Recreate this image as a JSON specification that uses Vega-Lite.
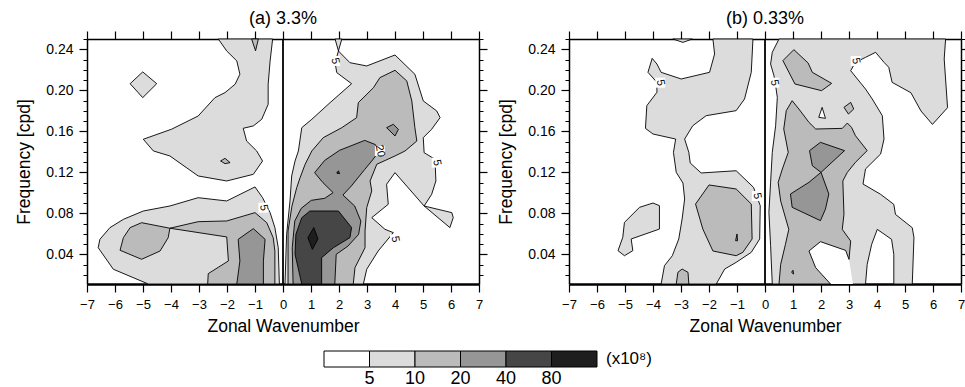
{
"$schema": "https://vega.github.io/schema/vega-lite/v6.json",
"background": "white",
"padding": {"left": 15, "top": 10, "right": 0, "bottom": 0},
"config": {"view": {"stroke": null}, "font": "Liberation Sans",
  "axis": {"domainColor": "black", "tickColor": "black", "labelColor": "black", "titleColor": "black", "labelFont": "Liberation Sans", "titleFont": "Liberation Sans", "titleFontWeight": "normal", "grid": false, "labelFlush": false, "labelOverlap": false, "zindex": 1}},
"datasets": {
"poly": [
{"p":"a","id":"a1","z":1,"lv":1,"i":0,"x":-2.31,"y":0.25},
{"p":"a","id":"a1","z":1,"lv":1,"i":1,"x":-2.01,"y":0.2383},
{"p":"a","id":"a1","z":1,"lv":1,"i":2,"x":-1.65,"y":0.2286},
{"p":"a","id":"a1","z":1,"lv":1,"i":3,"x":-1.54,"y":0.2156},
{"p":"a","id":"a1","z":1,"lv":1,"i":4,"x":-1.71,"y":0.2059},
{"p":"a","id":"a1","z":1,"lv":1,"i":5,"x":-2.07,"y":0.1977},
{"p":"a","id":"a1","z":1,"lv":1,"i":6,"x":-2.43,"y":0.1928},
{"p":"a","id":"a1","z":1,"lv":1,"i":7,"x":-3.03,"y":0.1749},
{"p":"a","id":"a1","z":1,"lv":1,"i":8,"x":-3.98,"y":0.162},
{"p":"a","id":"a1","z":1,"lv":1,"i":9,"x":-4.99,"y":0.1522},
{"p":"a","id":"a1","z":1,"lv":1,"i":10,"x":-4.63,"y":0.1408},
{"p":"a","id":"a1","z":1,"lv":1,"i":11,"x":-4.04,"y":0.1359},
{"p":"a","id":"a1","z":1,"lv":1,"i":12,"x":-3.03,"y":0.1164},
{"p":"a","id":"a1","z":1,"lv":1,"i":13,"x":-2.01,"y":0.1115},
{"p":"a","id":"a1","z":1,"lv":1,"i":14,"x":-1.06,"y":0.118},
{"p":"a","id":"a1","z":1,"lv":1,"i":15,"x":-0.73,"y":0.131},
{"p":"a","id":"a1","z":1,"lv":1,"i":16,"x":-0.94,"y":0.1408},
{"p":"a","id":"a1","z":1,"lv":1,"i":17,"x":-1.3,"y":0.1505},
{"p":"a","id":"a1","z":1,"lv":1,"i":18,"x":-1.42,"y":0.1629},
{"p":"a","id":"a1","z":1,"lv":1,"i":19,"x":-1.06,"y":0.1652},
{"p":"a","id":"a1","z":1,"lv":1,"i":20,"x":-0.76,"y":0.1717},
{"p":"a","id":"a1","z":1,"lv":1,"i":21,"x":-0.53,"y":0.1863},
{"p":"a","id":"a1","z":1,"lv":1,"i":22,"x":-0.53,"y":0.2059},
{"p":"a","id":"a1","z":1,"lv":1,"i":23,"x":-0.46,"y":0.2286},
{"p":"a","id":"a1","z":1,"lv":1,"i":24,"x":-0.37,"y":0.25},
{"p":"a","id":"a2","z":1,"lv":1,"i":0,"x":-5.01,"y":0.2179},
{"p":"a","id":"a2","z":1,"lv":1,"i":1,"x":-4.51,"y":0.2064},
{"p":"a","id":"a2","z":1,"lv":1,"i":2,"x":-5.01,"y":0.1928},
{"p":"a","id":"a2","z":1,"lv":1,"i":3,"x":-5.46,"y":0.2064},
{"p":"a","id":"a3","z":1,"lv":1,"i":0,"x":-4.81,"y":0.011},
{"p":"a","id":"a3","z":1,"lv":1,"i":1,"x":-6.06,"y":0.0254},
{"p":"a","id":"a3","z":1,"lv":1,"i":2,"x":-6.6,"y":0.0464},
{"p":"a","id":"a3","z":1,"lv":1,"i":3,"x":-6.54,"y":0.0546},
{"p":"a","id":"a3","z":1,"lv":1,"i":4,"x":-6.18,"y":0.066},
{"p":"a","id":"a3","z":1,"lv":1,"i":5,"x":-5.7,"y":0.0741},
{"p":"a","id":"a3","z":1,"lv":1,"i":6,"x":-4.99,"y":0.0822},
{"p":"a","id":"a3","z":1,"lv":1,"i":7,"x":-4.04,"y":0.0871},
{"p":"a","id":"a3","z":1,"lv":1,"i":8,"x":-3.03,"y":0.0952},
{"p":"a","id":"a3","z":1,"lv":1,"i":9,"x":-2.01,"y":0.092},
{"p":"a","id":"a3","z":1,"lv":1,"i":10,"x":-1.0,"y":0.1057},
{"p":"a","id":"a3","z":1,"lv":1,"i":11,"x":-0.73,"y":0.0952},
{"p":"a","id":"a3","z":1,"lv":1,"i":12,"x":-0.46,"y":0.0806},
{"p":"a","id":"a3","z":1,"lv":1,"i":13,"x":-0.29,"y":0.066},
{"p":"a","id":"a3","z":1,"lv":1,"i":14,"x":-0.17,"y":0.0464},
{"p":"a","id":"a3","z":1,"lv":1,"i":15,"x":-0.13,"y":0.011},
{"p":"a","id":"a4","z":1,"lv":1,"i":0,"x":0.07,"y":0.011},
{"p":"a","id":"a4","z":1,"lv":1,"i":1,"x":0.13,"y":0.0595},
{"p":"a","id":"a4","z":1,"lv":1,"i":2,"x":0.25,"y":0.092},
{"p":"a","id":"a4","z":1,"lv":1,"i":3,"x":0.31,"y":0.1164},
{"p":"a","id":"a4","z":1,"lv":1,"i":4,"x":0.43,"y":0.131},
{"p":"a","id":"a4","z":1,"lv":1,"i":5,"x":0.55,"y":0.1408},
{"p":"a","id":"a4","z":1,"lv":1,"i":6,"x":0.67,"y":0.1635},
{"p":"a","id":"a4","z":1,"lv":1,"i":7,"x":1.03,"y":0.1717},
{"p":"a","id":"a4","z":1,"lv":1,"i":8,"x":1.68,"y":0.1879},
{"p":"a","id":"a4","z":1,"lv":1,"i":9,"x":2.45,"y":0.2064},
{"p":"a","id":"a4","z":1,"lv":1,"i":10,"x":1.92,"y":0.2172},
{"p":"a","id":"a4","z":1,"lv":1,"i":11,"x":1.86,"y":0.2269},
{"p":"a","id":"a4","z":1,"lv":1,"i":12,"x":1.98,"y":0.2383},
{"p":"a","id":"a4","z":1,"lv":1,"i":13,"x":1.86,"y":0.25},
{"p":"a","id":"a4","z":1,"lv":1,"i":14,"x":2.1,"y":0.25},
{"p":"a","id":"a4","z":1,"lv":1,"i":15,"x":1.98,"y":0.2383},
{"p":"a","id":"a4","z":1,"lv":1,"i":16,"x":2.39,"y":0.2269},
{"p":"a","id":"a4","z":1,"lv":1,"i":17,"x":2.99,"y":0.2237},
{"p":"a","id":"a4","z":1,"lv":1,"i":18,"x":4.0,"y":0.2344},
{"p":"a","id":"a4","z":1,"lv":1,"i":19,"x":4.71,"y":0.2156},
{"p":"a","id":"a4","z":1,"lv":1,"i":20,"x":5.01,"y":0.1896},
{"p":"a","id":"a4","z":1,"lv":1,"i":21,"x":5.49,"y":0.1798},
{"p":"a","id":"a4","z":1,"lv":1,"i":22,"x":5.61,"y":0.1733},
{"p":"a","id":"a4","z":1,"lv":1,"i":23,"x":5.31,"y":0.162},
{"p":"a","id":"a4","z":1,"lv":1,"i":24,"x":5.01,"y":0.1538},
{"p":"a","id":"a4","z":1,"lv":1,"i":25,"x":5.04,"y":0.1391},
{"p":"a","id":"a4","z":1,"lv":1,"i":26,"x":5.43,"y":0.1327},
{"p":"a","id":"a4","z":1,"lv":1,"i":27,"x":5.46,"y":0.1115},
{"p":"a","id":"a4","z":1,"lv":1,"i":28,"x":5.31,"y":0.0985},
{"p":"a","id":"a4","z":1,"lv":1,"i":29,"x":5.04,"y":0.0871},
{"p":"a","id":"a4","z":1,"lv":1,"i":30,"x":6.03,"y":0.0806},
{"p":"a","id":"a4","z":1,"lv":1,"i":31,"x":6.08,"y":0.0757},
{"p":"a","id":"a4","z":1,"lv":1,"i":32,"x":5.96,"y":0.066},
{"p":"a","id":"a4","z":1,"lv":1,"i":33,"x":5.04,"y":0.0871},
{"p":"a","id":"a4","z":1,"lv":1,"i":34,"x":4.0,"y":0.1196},
{"p":"a","id":"a4","z":1,"lv":1,"i":35,"x":3.7,"y":0.1083},
{"p":"a","id":"a4","z":1,"lv":1,"i":36,"x":3.76,"y":0.0888},
{"p":"a","id":"a4","z":1,"lv":1,"i":37,"x":3.17,"y":0.0757},
{"p":"a","id":"a4","z":1,"lv":1,"i":38,"x":3.64,"y":0.0644},
{"p":"a","id":"a4","z":1,"lv":1,"i":39,"x":3.94,"y":0.0611},
{"p":"a","id":"a4","z":1,"lv":1,"i":40,"x":3.4,"y":0.0432},
{"p":"a","id":"a4","z":1,"lv":1,"i":41,"x":2.99,"y":0.0254},
{"p":"a","id":"a4","z":1,"lv":1,"i":42,"x":2.87,"y":0.011},
{"p":"a","id":"a5","z":3,"lv":2,"i":0,"x":-1.12,"y":0.25},
{"p":"a","id":"a5","z":3,"lv":2,"i":1,"x":-0.98,"y":0.2385},
{"p":"a","id":"a5","z":3,"lv":2,"i":2,"x":-0.88,"y":0.25},
{"p":"a","id":"a6","z":3,"lv":2,"i":0,"x":-2.23,"y":0.131},
{"p":"a","id":"a6","z":3,"lv":2,"i":1,"x":-2.07,"y":0.1336},
{"p":"a","id":"a6","z":3,"lv":2,"i":2,"x":-1.89,"y":0.1294},
{"p":"a","id":"a6","z":3,"lv":2,"i":3,"x":-2.07,"y":0.1284},
{"p":"a","id":"a7","z":3,"lv":2,"i":0,"x":-5.05,"y":0.0708},
{"p":"a","id":"a7","z":3,"lv":2,"i":1,"x":-4.04,"y":0.0654},
{"p":"a","id":"a7","z":3,"lv":2,"i":2,"x":-4.1,"y":0.0562},
{"p":"a","id":"a7","z":3,"lv":2,"i":3,"x":-4.39,"y":0.0432},
{"p":"a","id":"a7","z":3,"lv":2,"i":4,"x":-5.05,"y":0.0351},
{"p":"a","id":"a7","z":3,"lv":2,"i":5,"x":-5.82,"y":0.0439},
{"p":"a","id":"a7","z":3,"lv":2,"i":6,"x":-5.7,"y":0.0562},
{"p":"a","id":"a7","z":3,"lv":2,"i":7,"x":-5.46,"y":0.066},
{"p":"a","id":"a8","z":3,"lv":2,"i":0,"x":-4.04,"y":0.0654},
{"p":"a","id":"a8","z":3,"lv":2,"i":1,"x":-3.03,"y":0.0718},
{"p":"a","id":"a8","z":3,"lv":2,"i":2,"x":-2.01,"y":0.0725},
{"p":"a","id":"a8","z":3,"lv":2,"i":3,"x":-1.0,"y":0.0806},
{"p":"a","id":"a8","z":3,"lv":2,"i":4,"x":-0.58,"y":0.0708},
{"p":"a","id":"a8","z":3,"lv":2,"i":5,"x":-0.35,"y":0.0562},
{"p":"a","id":"a8","z":3,"lv":2,"i":6,"x":-0.29,"y":0.0432},
{"p":"a","id":"a8","z":3,"lv":2,"i":7,"x":-0.29,"y":0.011},
{"p":"a","id":"a8","z":3,"lv":2,"i":8,"x":-2.69,"y":0.011},
{"p":"a","id":"a8","z":3,"lv":2,"i":9,"x":-2.67,"y":0.0211},
{"p":"a","id":"a8","z":3,"lv":2,"i":10,"x":-1.95,"y":0.0335},
{"p":"a","id":"a8","z":3,"lv":2,"i":11,"x":-2.01,"y":0.0569},
{"p":"a","id":"a9","z":3,"lv":2,"i":0,"x":0.18,"y":0.011},
{"p":"a","id":"a9","z":3,"lv":2,"i":1,"x":0.18,"y":0.0627},
{"p":"a","id":"a9","z":3,"lv":2,"i":2,"x":0.32,"y":0.0871},
{"p":"a","id":"a9","z":3,"lv":2,"i":3,"x":0.49,"y":0.105},
{"p":"a","id":"a9","z":3,"lv":2,"i":4,"x":0.61,"y":0.1147},
{"p":"a","id":"a9","z":3,"lv":2,"i":5,"x":0.79,"y":0.1278},
{"p":"a","id":"a9","z":3,"lv":2,"i":6,"x":1.03,"y":0.1408},
{"p":"a","id":"a9","z":3,"lv":2,"i":7,"x":1.44,"y":0.1538},
{"p":"a","id":"a9","z":3,"lv":2,"i":8,"x":2.1,"y":0.1635},
{"p":"a","id":"a9","z":3,"lv":2,"i":9,"x":2.63,"y":0.1733},
{"p":"a","id":"a9","z":3,"lv":2,"i":10,"x":2.69,"y":0.1879},
{"p":"a","id":"a9","z":3,"lv":2,"i":11,"x":3.23,"y":0.2025},
{"p":"a","id":"a9","z":3,"lv":2,"i":12,"x":3.46,"y":0.2123},
{"p":"a","id":"a9","z":3,"lv":2,"i":13,"x":4.0,"y":0.2195},
{"p":"a","id":"a9","z":3,"lv":2,"i":14,"x":4.42,"y":0.2091},
{"p":"a","id":"a9","z":3,"lv":2,"i":15,"x":4.6,"y":0.1896},
{"p":"a","id":"a9","z":3,"lv":2,"i":16,"x":4.71,"y":0.1635},
{"p":"a","id":"a9","z":3,"lv":2,"i":17,"x":4.78,"y":0.1505},
{"p":"a","id":"a9","z":3,"lv":2,"i":18,"x":4.36,"y":0.1408},
{"p":"a","id":"a9","z":3,"lv":2,"i":19,"x":4.0,"y":0.1359},
{"p":"a","id":"a9","z":3,"lv":2,"i":20,"x":3.35,"y":0.1278},
{"p":"a","id":"a9","z":3,"lv":2,"i":21,"x":3.11,"y":0.1115},
{"p":"a","id":"a9","z":3,"lv":2,"i":22,"x":3.17,"y":0.1018},
{"p":"a","id":"a9","z":3,"lv":2,"i":23,"x":2.99,"y":0.0855},
{"p":"a","id":"a9","z":3,"lv":2,"i":24,"x":2.93,"y":0.0627},
{"p":"a","id":"a9","z":3,"lv":2,"i":25,"x":2.93,"y":0.0464},
{"p":"a","id":"a9","z":3,"lv":2,"i":26,"x":2.57,"y":0.0269},
{"p":"a","id":"a9","z":3,"lv":2,"i":27,"x":2.51,"y":0.011},
{"p":"a","id":"a10","z":4,"lv":3,"i":0,"x":-1.6,"y":0.0546},
{"p":"a","id":"a10","z":4,"lv":3,"i":1,"x":-1.06,"y":0.065},
{"p":"a","id":"a10","z":4,"lv":3,"i":2,"x":-0.64,"y":0.0546},
{"p":"a","id":"a10","z":4,"lv":3,"i":3,"x":-0.7,"y":0.0334},
{"p":"a","id":"a10","z":4,"lv":3,"i":4,"x":-0.7,"y":0.011},
{"p":"a","id":"a10","z":4,"lv":3,"i":5,"x":-1.65,"y":0.011},
{"p":"a","id":"a10","z":4,"lv":3,"i":6,"x":-1.54,"y":0.0334},
{"p":"a","id":"a11","z":4,"lv":3,"i":0,"x":1.13,"y":0.1196},
{"p":"a","id":"a11","z":4,"lv":3,"i":1,"x":1.49,"y":0.1316},
{"p":"a","id":"a11","z":4,"lv":3,"i":2,"x":2.02,"y":0.1414},
{"p":"a","id":"a11","z":4,"lv":3,"i":3,"x":2.92,"y":0.1511},
{"p":"a","id":"a11","z":4,"lv":3,"i":4,"x":3.3,"y":0.147},
{"p":"a","id":"a11","z":4,"lv":3,"i":5,"x":3.42,"y":0.14},
{"p":"a","id":"a11","z":4,"lv":3,"i":6,"x":3.2,"y":0.132},
{"p":"a","id":"a11","z":4,"lv":3,"i":7,"x":2.92,"y":0.1228},
{"p":"a","id":"a11","z":4,"lv":3,"i":8,"x":2.44,"y":0.1066},
{"p":"a","id":"a11","z":4,"lv":3,"i":9,"x":2.14,"y":0.0978},
{"p":"a","id":"a11","z":4,"lv":3,"i":10,"x":2.56,"y":0.0871},
{"p":"a","id":"a11","z":4,"lv":3,"i":11,"x":2.78,"y":0.0724},
{"p":"a","id":"a11","z":4,"lv":3,"i":12,"x":2.7,"y":0.0594},
{"p":"a","id":"a11","z":4,"lv":3,"i":13,"x":2.32,"y":0.048},
{"p":"a","id":"a11","z":4,"lv":3,"i":14,"x":1.9,"y":0.0399},
{"p":"a","id":"a11","z":4,"lv":3,"i":15,"x":1.85,"y":0.011},
{"p":"a","id":"a11","z":4,"lv":3,"i":16,"x":0.36,"y":0.011},
{"p":"a","id":"a11","z":4,"lv":3,"i":17,"x":0.33,"y":0.0464},
{"p":"a","id":"a11","z":4,"lv":3,"i":18,"x":0.42,"y":0.0724},
{"p":"a","id":"a11","z":4,"lv":3,"i":19,"x":0.65,"y":0.0848},
{"p":"a","id":"a11","z":4,"lv":3,"i":20,"x":1.01,"y":0.0926},
{"p":"a","id":"a11","z":4,"lv":3,"i":21,"x":1.49,"y":0.0946},
{"p":"a","id":"a11","z":4,"lv":3,"i":22,"x":1.79,"y":0.1001},
{"p":"a","id":"a11","z":4,"lv":3,"i":23,"x":1.43,"y":0.1098},
{"p":"a","id":"a12","z":4,"lv":3,"i":0,"x":3.7,"y":0.1635},
{"p":"a","id":"a12","z":4,"lv":3,"i":1,"x":3.94,"y":0.1668},
{"p":"a","id":"a12","z":4,"lv":3,"i":2,"x":4.12,"y":0.1619},
{"p":"a","id":"a12","z":4,"lv":3,"i":3,"x":4.0,"y":0.1554},
{"p":"a","id":"a13","z":5,"lv":4,"i":0,"x":0.67,"y":0.011},
{"p":"a","id":"a13","z":5,"lv":4,"i":1,"x":0.43,"y":0.04},
{"p":"a","id":"a13","z":5,"lv":4,"i":2,"x":0.46,"y":0.0595},
{"p":"a","id":"a13","z":5,"lv":4,"i":3,"x":0.67,"y":0.0757},
{"p":"a","id":"a13","z":5,"lv":4,"i":4,"x":0.96,"y":0.0822},
{"p":"a","id":"a13","z":5,"lv":4,"i":5,"x":1.98,"y":0.0822},
{"p":"a","id":"a13","z":5,"lv":4,"i":6,"x":2.45,"y":0.066},
{"p":"a","id":"a13","z":5,"lv":4,"i":7,"x":2.39,"y":0.0562},
{"p":"a","id":"a13","z":5,"lv":4,"i":8,"x":1.8,"y":0.0464},
{"p":"a","id":"a13","z":5,"lv":4,"i":9,"x":1.38,"y":0.0367},
{"p":"a","id":"a13","z":5,"lv":4,"i":10,"x":1.38,"y":0.011},
{"p":"a","id":"a15","z":5,"lv":4,"i":0,"x":1.92,"y":0.1192},
{"p":"a","id":"a15","z":5,"lv":4,"i":1,"x":1.98,"y":0.1214},
{"p":"a","id":"a15","z":5,"lv":4,"i":2,"x":2.02,"y":0.1186},
{"p":"a","id":"a14","z":6,"lv":5,"i":0,"x":0.89,"y":0.0562},
{"p":"a","id":"a14","z":6,"lv":5,"i":1,"x":1.1,"y":0.066},
{"p":"a","id":"a14","z":6,"lv":5,"i":2,"x":1.25,"y":0.055},
{"p":"a","id":"a14","z":6,"lv":5,"i":3,"x":1.05,"y":0.0448},
{"p":"b","id":"b1","z":1,"lv":1,"i":0,"x":-1.86,"y":0.25},
{"p":"b","id":"b1","z":1,"lv":1,"i":1,"x":-1.8,"y":0.2354},
{"p":"b","id":"b1","z":1,"lv":1,"i":2,"x":-1.98,"y":0.2175},
{"p":"b","id":"b1","z":1,"lv":1,"i":3,"x":-2.99,"y":0.211},
{"p":"b","id":"b1","z":1,"lv":1,"i":4,"x":-3.71,"y":0.2175},
{"p":"b","id":"b1","z":1,"lv":1,"i":5,"x":-3.86,"y":0.2256},
{"p":"b","id":"b1","z":1,"lv":1,"i":6,"x":-4.03,"y":0.2311},
{"p":"b","id":"b1","z":1,"lv":1,"i":7,"x":-4.18,"y":0.2175},
{"p":"b","id":"b1","z":1,"lv":1,"i":8,"x":-3.86,"y":0.2077},
{"p":"b","id":"b1","z":1,"lv":1,"i":9,"x":-3.86,"y":0.198},
{"p":"b","id":"b1","z":1,"lv":1,"i":10,"x":-4.22,"y":0.185},
{"p":"b","id":"b1","z":1,"lv":1,"i":11,"x":-4.27,"y":0.1628},
{"p":"b","id":"b1","z":1,"lv":1,"i":12,"x":-4.0,"y":0.1573},
{"p":"b","id":"b1","z":1,"lv":1,"i":13,"x":-3.19,"y":0.1524},
{"p":"b","id":"b1","z":1,"lv":1,"i":14,"x":-3.27,"y":0.1394},
{"p":"b","id":"b1","z":1,"lv":1,"i":15,"x":-3.17,"y":0.1199},
{"p":"b","id":"b1","z":1,"lv":1,"i":16,"x":-2.93,"y":0.1095},
{"p":"b","id":"b1","z":1,"lv":1,"i":17,"x":-2.87,"y":0.0939},
{"p":"b","id":"b1","z":1,"lv":1,"i":18,"x":-2.96,"y":0.0744},
{"p":"b","id":"b1","z":1,"lv":1,"i":19,"x":-3.08,"y":0.0549},
{"p":"b","id":"b1","z":1,"lv":1,"i":20,"x":-3.31,"y":0.0386},
{"p":"b","id":"b1","z":1,"lv":1,"i":21,"x":-3.59,"y":0.0289},
{"p":"b","id":"b1","z":1,"lv":1,"i":22,"x":-3.71,"y":0.011},
{"p":"b","id":"b1","z":1,"lv":1,"i":23,"x":-1.74,"y":0.011},
{"p":"b","id":"b1","z":1,"lv":1,"i":24,"x":-1.44,"y":0.0256},
{"p":"b","id":"b1","z":1,"lv":1,"i":25,"x":-1.03,"y":0.0321},
{"p":"b","id":"b1","z":1,"lv":1,"i":26,"x":-0.49,"y":0.0419},
{"p":"b","id":"b1","z":1,"lv":1,"i":27,"x":-0.19,"y":0.0549},
{"p":"b","id":"b1","z":1,"lv":1,"i":28,"x":-0.17,"y":0.0874},
{"p":"b","id":"b1","z":1,"lv":1,"i":29,"x":-0.41,"y":0.1053},
{"p":"b","id":"b1","z":1,"lv":1,"i":30,"x":-1.03,"y":0.1215},
{"p":"b","id":"b1","z":1,"lv":1,"i":31,"x":-2.28,"y":0.1193},
{"p":"b","id":"b1","z":1,"lv":1,"i":32,"x":-2.67,"y":0.129},
{"p":"b","id":"b1","z":1,"lv":1,"i":33,"x":-2.72,"y":0.1394},
{"p":"b","id":"b1","z":1,"lv":1,"i":34,"x":-2.87,"y":0.1524},
{"p":"b","id":"b1","z":1,"lv":1,"i":35,"x":-2.58,"y":0.1654},
{"p":"b","id":"b1","z":1,"lv":1,"i":36,"x":-2.1,"y":0.1752},
{"p":"b","id":"b1","z":1,"lv":1,"i":37,"x":-1.03,"y":0.1801},
{"p":"b","id":"b1","z":1,"lv":1,"i":38,"x":-0.73,"y":0.1915},
{"p":"b","id":"b1","z":1,"lv":1,"i":39,"x":-0.49,"y":0.2175},
{"p":"b","id":"b1","z":1,"lv":1,"i":40,"x":-0.43,"y":0.25},
{"p":"b","id":"b2","z":1,"lv":1,"i":0,"x":-5.25,"y":0.0435},
{"p":"b","id":"b2","z":1,"lv":1,"i":1,"x":-5.08,"y":0.0565},
{"p":"b","id":"b2","z":1,"lv":1,"i":2,"x":-5.02,"y":0.0711},
{"p":"b","id":"b2","z":1,"lv":1,"i":3,"x":-4.48,"y":0.0858},
{"p":"b","id":"b2","z":1,"lv":1,"i":4,"x":-4.0,"y":0.09},
{"p":"b","id":"b2","z":1,"lv":1,"i":5,"x":-3.77,"y":0.0874},
{"p":"b","id":"b2","z":1,"lv":1,"i":6,"x":-3.77,"y":0.0646},
{"p":"b","id":"b2","z":1,"lv":1,"i":7,"x":-4.78,"y":0.0549},
{"p":"b","id":"b2","z":1,"lv":1,"i":8,"x":-4.72,"y":0.0435},
{"p":"b","id":"b2","z":1,"lv":1,"i":9,"x":-5.02,"y":0.0386},
{"p":"b","id":"b3","z":1,"lv":1,"i":0,"x":-3.29,"y":0.25},
{"p":"b","id":"b3","z":1,"lv":1,"i":1,"x":-2.93,"y":0.2467},
{"p":"b","id":"b3","z":1,"lv":1,"i":2,"x":-2.6,"y":0.25},
{"p":"b","id":"b4","z":1,"lv":1,"i":0,"x":0.5,"y":0.25},
{"p":"b","id":"b4","z":1,"lv":1,"i":1,"x":6.45,"y":0.25},
{"p":"b","id":"b4","z":1,"lv":1,"i":2,"x":6.4,"y":0.2305},
{"p":"b","id":"b4","z":1,"lv":1,"i":3,"x":6.52,"y":0.183},
{"p":"b","id":"b4","z":1,"lv":1,"i":4,"x":5.98,"y":0.1667},
{"p":"b","id":"b4","z":1,"lv":1,"i":5,"x":5.57,"y":0.1798},
{"p":"b","id":"b4","z":1,"lv":1,"i":6,"x":5.21,"y":0.1976},
{"p":"b","id":"b4","z":1,"lv":1,"i":7,"x":4.54,"y":0.2077},
{"p":"b","id":"b4","z":1,"lv":1,"i":8,"x":4.42,"y":0.2224},
{"p":"b","id":"b4","z":1,"lv":1,"i":9,"x":4.25,"y":0.2272},
{"p":"b","id":"b4","z":1,"lv":1,"i":10,"x":3.95,"y":0.237},
{"p":"b","id":"b4","z":1,"lv":1,"i":11,"x":3.59,"y":0.2321},
{"p":"b","id":"b4","z":1,"lv":1,"i":12,"x":3.23,"y":0.2272},
{"p":"b","id":"b4","z":1,"lv":1,"i":13,"x":3.06,"y":0.2191},
{"p":"b","id":"b4","z":1,"lv":1,"i":14,"x":3.59,"y":0.2012},
{"p":"b","id":"b4","z":1,"lv":1,"i":15,"x":3.83,"y":0.1915},
{"p":"b","id":"b4","z":1,"lv":1,"i":16,"x":4.19,"y":0.1752},
{"p":"b","id":"b4","z":1,"lv":1,"i":17,"x":4.25,"y":0.1524},
{"p":"b","id":"b4","z":1,"lv":1,"i":18,"x":4.13,"y":0.1378},
{"p":"b","id":"b4","z":1,"lv":1,"i":19,"x":3.59,"y":0.1232},
{"p":"b","id":"b4","z":1,"lv":1,"i":20,"x":3.5,"y":0.1085},
{"p":"b","id":"b4","z":1,"lv":1,"i":21,"x":4.13,"y":0.0985},
{"p":"b","id":"b4","z":1,"lv":1,"i":22,"x":4.6,"y":0.0887},
{"p":"b","id":"b4","z":1,"lv":1,"i":23,"x":4.66,"y":0.0789},
{"p":"b","id":"b4","z":1,"lv":1,"i":24,"x":5.26,"y":0.0659},
{"p":"b","id":"b4","z":1,"lv":1,"i":25,"x":5.32,"y":0.0562},
{"p":"b","id":"b4","z":1,"lv":1,"i":26,"x":5.26,"y":0.011},
{"p":"b","id":"b4","z":1,"lv":1,"i":27,"x":4.6,"y":0.011},
{"p":"b","id":"b4","z":1,"lv":1,"i":28,"x":4.6,"y":0.0399},
{"p":"b","id":"b4","z":1,"lv":1,"i":29,"x":4.52,"y":0.0546},
{"p":"b","id":"b4","z":1,"lv":1,"i":30,"x":4.01,"y":0.0643},
{"p":"b","id":"b4","z":1,"lv":1,"i":31,"x":3.81,"y":0.0497},
{"p":"b","id":"b4","z":1,"lv":1,"i":32,"x":3.65,"y":0.0302},
{"p":"b","id":"b4","z":1,"lv":1,"i":33,"x":3.59,"y":0.011},
{"p":"b","id":"b4","z":1,"lv":1,"i":34,"x":0.26,"y":0.011},
{"p":"b","id":"b4","z":1,"lv":1,"i":35,"x":0.2,"y":0.0484},
{"p":"b","id":"b4","z":1,"lv":1,"i":36,"x":0.14,"y":0.0809},
{"p":"b","id":"b4","z":1,"lv":1,"i":37,"x":0.2,"y":0.1102},
{"p":"b","id":"b4","z":1,"lv":1,"i":38,"x":0.26,"y":0.1394},
{"p":"b","id":"b4","z":1,"lv":1,"i":39,"x":0.38,"y":0.1654},
{"p":"b","id":"b4","z":1,"lv":1,"i":40,"x":0.44,"y":0.1931},
{"p":"b","id":"b4","z":1,"lv":1,"i":41,"x":0.38,"y":0.2045},
{"p":"b","id":"b4","z":1,"lv":1,"i":42,"x":0.32,"y":0.2142},
{"p":"b","id":"b4","z":1,"lv":1,"i":43,"x":0.2,"y":0.2256},
{"p":"b","id":"b4","z":1,"lv":1,"i":44,"x":0.26,"y":0.237},
{"p":"b","id":"b5","z":2,"lv":0,"i":0,"x":3.0,"y":0.035},
{"p":"b","id":"b5","z":2,"lv":0,"i":1,"x":2.88,"y":0.0438},
{"p":"b","id":"b5","z":2,"lv":0,"i":2,"x":1.98,"y":0.0523},
{"p":"b","id":"b5","z":2,"lv":0,"i":3,"x":1.57,"y":0.0432},
{"p":"b","id":"b5","z":2,"lv":0,"i":4,"x":1.81,"y":0.0269},
{"p":"b","id":"b5","z":2,"lv":0,"i":5,"x":2.34,"y":0.011},
{"p":"b","id":"b5","z":2,"lv":0,"i":6,"x":3.14,"y":0.011},
{"p":"b","id":"b6","z":3,"lv":2,"i":0,"x":-2.0,"y":0.1076},
{"p":"b","id":"b6","z":3,"lv":2,"i":1,"x":-1.03,"y":0.1037},
{"p":"b","id":"b6","z":3,"lv":2,"i":2,"x":-0.49,"y":0.089},
{"p":"b","id":"b6","z":3,"lv":2,"i":3,"x":-0.46,"y":0.0549},
{"p":"b","id":"b6","z":3,"lv":2,"i":4,"x":-0.79,"y":0.0419},
{"p":"b","id":"b6","z":3,"lv":2,"i":5,"x":-1.03,"y":0.0386},
{"p":"b","id":"b6","z":3,"lv":2,"i":6,"x":-1.86,"y":0.0432},
{"p":"b","id":"b6","z":3,"lv":2,"i":7,"x":-2.22,"y":0.0646},
{"p":"b","id":"b6","z":3,"lv":2,"i":8,"x":-2.48,"y":0.089},
{"p":"b","id":"b7","z":3,"lv":2,"i":0,"x":-3.17,"y":0.011},
{"p":"b","id":"b7","z":3,"lv":2,"i":1,"x":-3.11,"y":0.0224},
{"p":"b","id":"b7","z":3,"lv":2,"i":2,"x":-2.96,"y":0.0256},
{"p":"b","id":"b7","z":3,"lv":2,"i":3,"x":-2.75,"y":0.0224},
{"p":"b","id":"b7","z":3,"lv":2,"i":4,"x":-2.72,"y":0.011},
{"p":"b","id":"b8","z":3,"lv":2,"i":0,"x":0.64,"y":0.2289},
{"p":"b","id":"b8","z":3,"lv":2,"i":1,"x":1.03,"y":0.2396},
{"p":"b","id":"b8","z":3,"lv":2,"i":2,"x":1.54,"y":0.2266},
{"p":"b","id":"b8","z":3,"lv":2,"i":3,"x":1.69,"y":0.2175},
{"p":"b","id":"b8","z":3,"lv":2,"i":4,"x":2.38,"y":0.2067},
{"p":"b","id":"b8","z":3,"lv":2,"i":5,"x":2.02,"y":0.1996},
{"p":"b","id":"b8","z":3,"lv":2,"i":6,"x":1.07,"y":0.2061},
{"p":"b","id":"b9","z":3,"lv":2,"i":0,"x":2.82,"y":0.1833},
{"p":"b","id":"b9","z":3,"lv":2,"i":1,"x":3.06,"y":0.1882},
{"p":"b","id":"b9","z":3,"lv":2,"i":2,"x":3.17,"y":0.1817},
{"p":"b","id":"b9","z":3,"lv":2,"i":3,"x":2.98,"y":0.1768},
{"p":"b","id":"b10","z":3,"lv":2,"i":0,"x":0.97,"y":0.1898},
{"p":"b","id":"b10","z":3,"lv":2,"i":1,"x":1.21,"y":0.1817},
{"p":"b","id":"b10","z":3,"lv":2,"i":2,"x":1.57,"y":0.1687},
{"p":"b","id":"b10","z":3,"lv":2,"i":3,"x":1.81,"y":0.1622},
{"p":"b","id":"b10","z":3,"lv":2,"i":4,"x":2.76,"y":0.1628},
{"p":"b","id":"b10","z":3,"lv":2,"i":5,"x":2.94,"y":0.168},
{"p":"b","id":"b10","z":3,"lv":2,"i":6,"x":3.09,"y":0.1638},
{"p":"b","id":"b10","z":3,"lv":2,"i":7,"x":3.23,"y":0.1557},
{"p":"b","id":"b10","z":3,"lv":2,"i":8,"x":3.65,"y":0.1411},
{"p":"b","id":"b10","z":3,"lv":2,"i":9,"x":3.23,"y":0.1297},
{"p":"b","id":"b10","z":3,"lv":2,"i":10,"x":2.94,"y":0.1199},
{"p":"b","id":"b10","z":3,"lv":2,"i":11,"x":2.78,"y":0.1115},
{"p":"b","id":"b10","z":3,"lv":2,"i":12,"x":2.82,"y":0.0789},
{"p":"b","id":"b10","z":3,"lv":2,"i":13,"x":2.76,"y":0.0643},
{"p":"b","id":"b10","z":3,"lv":2,"i":14,"x":3.06,"y":0.0529},
{"p":"b","id":"b10","z":3,"lv":2,"i":15,"x":3.0,"y":0.035},
{"p":"b","id":"b10","z":3,"lv":2,"i":16,"x":2.88,"y":0.0438},
{"p":"b","id":"b10","z":3,"lv":2,"i":17,"x":1.98,"y":0.0523},
{"p":"b","id":"b10","z":3,"lv":2,"i":18,"x":1.57,"y":0.0432},
{"p":"b","id":"b10","z":3,"lv":2,"i":19,"x":1.81,"y":0.0269},
{"p":"b","id":"b10","z":3,"lv":2,"i":20,"x":2.34,"y":0.011},
{"p":"b","id":"b10","z":3,"lv":2,"i":21,"x":0.5,"y":0.011},
{"p":"b","id":"b10","z":3,"lv":2,"i":22,"x":0.56,"y":0.0302},
{"p":"b","id":"b10","z":3,"lv":2,"i":23,"x":0.73,"y":0.0497},
{"p":"b","id":"b10","z":3,"lv":2,"i":24,"x":0.85,"y":0.0643},
{"p":"b","id":"b10","z":3,"lv":2,"i":25,"x":0.56,"y":0.0919},
{"p":"b","id":"b10","z":3,"lv":2,"i":26,"x":0.47,"y":0.1102},
{"p":"b","id":"b10","z":3,"lv":2,"i":27,"x":0.62,"y":0.1232},
{"p":"b","id":"b10","z":3,"lv":2,"i":28,"x":0.83,"y":0.1394},
{"p":"b","id":"b10","z":3,"lv":2,"i":29,"x":0.67,"y":0.1622},
{"p":"b","id":"b10","z":3,"lv":2,"i":30,"x":0.76,"y":0.1801},
{"p":"b","id":"b11","z":3,"lv":0,"i":0,"x":1.92,"y":0.1736},
{"p":"b","id":"b11","z":3,"lv":0,"i":1,"x":2.04,"y":0.1833},
{"p":"b","id":"b11","z":3,"lv":0,"i":2,"x":2.16,"y":0.1726},
{"p":"b","id":"b12","z":4,"lv":3,"i":0,"x":-1.05,"y":0.0532},
{"p":"b","id":"b12","z":4,"lv":3,"i":1,"x":-1.0,"y":0.0598},
{"p":"b","id":"b12","z":4,"lv":3,"i":2,"x":-0.98,"y":0.0532},
{"p":"b","id":"b13","z":4,"lv":3,"i":0,"x":1.59,"y":0.1411},
{"p":"b","id":"b13","z":4,"lv":3,"i":1,"x":1.98,"y":0.1492},
{"p":"b","id":"b13","z":4,"lv":3,"i":2,"x":2.84,"y":0.1411},
{"p":"b","id":"b13","z":4,"lv":3,"i":3,"x":2.0,"y":0.1199},
{"p":"b","id":"b13","z":4,"lv":3,"i":4,"x":1.69,"y":0.1264},
{"p":"b","id":"b14","z":4,"lv":3,"i":0,"x":2.0,"y":0.1199},
{"p":"b","id":"b14","z":4,"lv":3,"i":1,"x":2.28,"y":0.0988},
{"p":"b","id":"b14","z":4,"lv":3,"i":2,"x":2.16,"y":0.0841},
{"p":"b","id":"b14","z":4,"lv":3,"i":3,"x":1.98,"y":0.0728},
{"p":"b","id":"b14","z":4,"lv":3,"i":4,"x":0.97,"y":0.0858},
{"p":"b","id":"b14","z":4,"lv":3,"i":5,"x":0.91,"y":0.0988},
{"p":"b","id":"b14","z":4,"lv":3,"i":6,"x":1.57,"y":0.1102},
{"p":"b","id":"b15","z":4,"lv":3,"i":0,"x":0.95,"y":0.0224},
{"p":"b","id":"b15","z":4,"lv":3,"i":1,"x":1.0,"y":0.0244},
{"p":"b","id":"b15","z":4,"lv":3,"i":2,"x":1.02,"y":0.0207}
],
"lab": [
{"p":"a","t":"5","x":1.86,"y":0.2286},
{"p":"a","t":"20","x":3.46,"y":0.1408},
{"p":"a","t":"5","x":5.49,"y":0.1294},
{"p":"a","t":"5","x":-0.7,"y":0.0855},
{"p":"a","t":"5","x":4.0,"y":0.0546},
{"p":"b","t":"5","x":-3.74,"y":0.2074},
{"p":"b","t":"5","x":-0.29,"y":0.0969},
{"p":"b","t":"5","x":0.33,"y":0.2074},
{"p":"b","t":"5","x":3.24,"y":0.2286}
]
},
"hconcat": [
{
"width": 392, "height": 245,
"title": {"text": "(a) 3.3%", "fontSize": 18, "fontWeight": "normal", "font": "Liberation Sans", "color": "black", "offset": 2},
"layer": [
{"data": {"name": "poly"}, "transform": [{"filter": "datum.p=='a' && datum.z==1"}],
 "mark": {"type": "line", "interpolate": "linear-closed", "stroke": "black", "strokeWidth": 0.9},
 "encoding": {
  "x": {"field": "x", "type": "quantitative", "scale": {"domain": [-7, 7], "nice": false, "zero": false}, "axis": {"orient": "bottom", "values": [-7,-6,-5,-4,-3,-2,-1,0,1,2,3,4,5,6,7], "tickSize": 8, "tickWidth": 1.2, "domainWidth": 2.5, "labelFontSize": 13, "labelPadding": 6, "title": "Zonal Wavenumber", "titleFontSize": 17.5, "titlePadding": 6}},
  "y": {"field": "y", "type": "quantitative", "scale": {"domain": [0.011, 0.25], "nice": false, "zero": false}, "axis": {"orient": "left", "values": [0.04,0.08,0.12,0.16,0.2,0.24], "format": ".2f", "tickSize": 8, "tickWidth": 1.2, "domainWidth": 1.5, "labelFontSize": 14, "labelPadding": 6, "title": "Frequency [cpd]", "titleFontSize": 17.5, "titlePadding": 12}},
  "fill": {"field": "lv", "type": "quantitative", "title": "(x10⁸)", "scale": {"type": "threshold", "domain": [1,2,3,4,5], "range": ["#ffffff","#dcdcdc","#bbbbbb","#969696","#464646","#1e1e1e"]},
    "legend": {"type": "gradient", "orient": "none", "legendX": 237, "legendY": 312, "direction": "horizontal", "gradientLength": 273, "gradientThickness": 16, "gradientStrokeColor": "black", "gradientStrokeWidth": 1, "labelFontSize": 18, "labelFont": "Liberation Sans", "labelColor": "black", "labelOffset": 3, "labelOverlap": false, "labelExpr": "['0','5','10','20','40','80'][datum.value]", "titleOrient": "right", "titleAnchor": "end", "titleFontSize": 17, "titleFontWeight": "normal", "titleFont": "Liberation Sans", "titleColor": "black", "titlePadding": 8}},
  "detail": {"field": "id"},
  "order": {"field": "i", "type": "quantitative"}}},
{"data": {"name": "poly"}, "transform": [{"filter": "datum.p=='a' && datum.z==3"}],
 "mark": {"type": "line", "interpolate": "linear-closed", "stroke": "black", "strokeWidth": 0.9},
 "encoding": {
  "x": {"field": "x", "type": "quantitative", "scale": {"domain": [-7, 7], "nice": false, "zero": false}, "axis": {"orient": "top", "values": [-7,-6,-5,-4,-3,-2,-1,0,1,2,3,4,5,6,7], "tickSize": 8, "tickWidth": 1.2, "domainWidth": 1.5, "labels": false, "title": null}},
  "y": {"field": "y", "type": "quantitative", "scale": {"domain": [0.011, 0.25], "nice": false, "zero": false}, "axis": {"orient": "right", "values": [0.04,0.08,0.12,0.16,0.2,0.24], "tickSize": 8, "tickWidth": 1.2, "domainWidth": 1.5, "labels": false, "title": null}},
  "fill": {"field": "lv", "type": "quantitative", "title": "(x10⁸)", "scale": {"type": "threshold", "domain": [1,2,3,4,5], "range": ["#ffffff","#dcdcdc","#bbbbbb","#969696","#464646","#1e1e1e"]}, "legend": null},
  "detail": {"field": "id"},
  "order": {"field": "i", "type": "quantitative"}}},
{"data": {"name": "poly"}, "transform": [{"filter": "datum.p=='a' && datum.z==4"}],
 "mark": {"type": "line", "interpolate": "linear-closed", "stroke": "black", "strokeWidth": 0.9},
 "encoding": {
  "x": {"field": "x", "type": "quantitative", "scale": {"domain": [-7, 7], "nice": false, "zero": false}, "axis": null},
  "y": {"field": "y", "type": "quantitative", "scale": {"domain": [0.011, 0.25], "nice": false, "zero": false}, "axis": {"orient": "left", "values": [0.02,0.03,0.05,0.06,0.07,0.09,0.1,0.11,0.13,0.14,0.15,0.17,0.18,0.19,0.21,0.22,0.23,0.25], "tickSize": 4, "tickWidth": 1, "labels": false, "domain": false, "title": null}},
  "fill": {"field": "lv", "type": "quantitative", "title": "(x10⁸)", "scale": {"type": "threshold", "domain": [1,2,3,4,5], "range": ["#ffffff","#dcdcdc","#bbbbbb","#969696","#464646","#1e1e1e"]}, "legend": null},
  "detail": {"field": "id"},
  "order": {"field": "i", "type": "quantitative"}}},
{"data": {"name": "poly"}, "transform": [{"filter": "datum.p=='a' && datum.z==5"}],
 "mark": {"type": "line", "interpolate": "linear-closed", "stroke": "black", "strokeWidth": 0.9},
 "encoding": {
  "x": {"field": "x", "type": "quantitative", "scale": {"domain": [-7, 7], "nice": false, "zero": false}, "axis": null},
  "y": {"field": "y", "type": "quantitative", "scale": {"domain": [0.011, 0.25], "nice": false, "zero": false}, "axis": {"orient": "right", "values": [0.02,0.03,0.05,0.06,0.07,0.09,0.1,0.11,0.13,0.14,0.15,0.17,0.18,0.19,0.21,0.22,0.23,0.25], "tickSize": 4, "tickWidth": 1, "labels": false, "domain": false, "title": null}},
  "fill": {"field": "lv", "type": "quantitative", "title": "(x10⁸)", "scale": {"type": "threshold", "domain": [1,2,3,4,5], "range": ["#ffffff","#dcdcdc","#bbbbbb","#969696","#464646","#1e1e1e"]}, "legend": null},
  "detail": {"field": "id"},
  "order": {"field": "i", "type": "quantitative"}}},
{"data": {"name": "poly"}, "transform": [{"filter": "datum.p=='a' && datum.z==6"}],
 "mark": {"type": "line", "interpolate": "linear-closed", "stroke": "black", "strokeWidth": 0.9},
 "encoding": {
  "x": {"field": "x", "type": "quantitative", "scale": {"domain": [-7, 7], "nice": false, "zero": false}, "axis": null},
  "y": {"field": "y", "type": "quantitative", "scale": {"domain": [0.011, 0.25], "nice": false, "zero": false}, "axis": null},
  "fill": {"field": "lv", "type": "quantitative", "title": "(x10⁸)", "scale": {"type": "threshold", "domain": [1,2,3,4,5], "range": ["#ffffff","#dcdcdc","#bbbbbb","#969696","#464646","#1e1e1e"]}, "legend": null},
  "detail": {"field": "id"},
  "order": {"field": "i", "type": "quantitative"}}},
{"data": {"name": "lab"}, "transform": [{"filter": "datum.p=='a'"}],
 "mark": {"type": "square", "filled": true, "color": "white", "opacity": 1, "size": 100},
 "encoding": {
  "x": {"field": "x", "type": "quantitative", "scale": {"domain": [-7, 7], "nice": false, "zero": false}, "axis": null},
  "y": {"field": "y", "type": "quantitative", "scale": {"domain": [0.011, 0.25], "nice": false, "zero": false}, "axis": null}}},
{"data": {"name": "lab"}, "transform": [{"filter": "datum.p=='a'"}],
 "mark": {"type": "text", "fontSize": 11, "angle": 80, "font": "Liberation Sans", "color": "black"},
 "encoding": {
  "x": {"field": "x", "type": "quantitative", "scale": {"domain": [-7, 7], "nice": false, "zero": false}, "axis": null},
  "y": {"field": "y", "type": "quantitative", "scale": {"domain": [0.011, 0.25], "nice": false, "zero": false}, "axis": null},
  "text": {"field": "t"}}},
{"data": {"values": [{"v": 0, "f0": 0.011, "f1": 0.25}]},
 "mark": {"type": "rule", "strokeWidth": 1.8, "color": "black"},
 "encoding": {
  "x": {"field": "v", "type": "quantitative", "scale": {"domain": [-7, 7], "nice": false, "zero": false}, "axis": null},
  "y": {"field": "f0", "type": "quantitative", "scale": {"domain": [0.011, 0.25], "nice": false, "zero": false}, "axis": null},
  "y2": {"field": "f1"}}}
],
"resolve": {"axis": {"x": "independent", "y": "independent"}}
},
{
"width": 392, "height": 245,
"title": {"text": "(b) 0.33%", "fontSize": 18, "fontWeight": "normal", "font": "Liberation Sans", "color": "black", "offset": 2},
"layer": [
{"data": {"name": "poly"}, "transform": [{"filter": "datum.p=='b' && datum.z==1"}],
 "mark": {"type": "line", "interpolate": "linear-closed", "stroke": "black", "strokeWidth": 0.9},
 "encoding": {
  "x": {"field": "x", "type": "quantitative", "scale": {"domain": [-7, 7], "nice": false, "zero": false}, "axis": {"orient": "bottom", "values": [-7,-6,-5,-4,-3,-2,-1,0,1,2,3,4,5,6,7], "tickSize": 8, "tickWidth": 1.2, "domainWidth": 2.5, "labelFontSize": 13, "labelPadding": 6, "title": "Zonal Wavenumber", "titleFontSize": 17.5, "titlePadding": 6}},
  "y": {"field": "y", "type": "quantitative", "scale": {"domain": [0.011, 0.25], "nice": false, "zero": false}, "axis": {"orient": "left", "values": [0.04,0.08,0.12,0.16,0.2,0.24], "format": ".2f", "tickSize": 8, "tickWidth": 1.2, "domainWidth": 1.5, "labelFontSize": 14, "labelPadding": 6, "title": "Frequency [cpd]", "titleFontSize": 17.5, "titlePadding": 12}},
  "fill": {"field": "lv", "type": "quantitative", "title": "(x10⁸)", "scale": {"type": "threshold", "domain": [1,2,3,4,5], "range": ["#ffffff","#dcdcdc","#bbbbbb","#969696","#464646","#1e1e1e"]}, "legend": null},
  "detail": {"field": "id"},
  "order": {"field": "i", "type": "quantitative"}}},
{"data": {"name": "poly"}, "transform": [{"filter": "datum.p=='b' && datum.z==2"}],
 "mark": {"type": "line", "interpolate": "linear-closed", "stroke": "black", "strokeWidth": 0.9, "strokeOpacity": 0},
 "encoding": {
  "x": {"field": "x", "type": "quantitative", "scale": {"domain": [-7, 7], "nice": false, "zero": false}, "axis": {"orient": "top", "values": [-7,-6,-5,-4,-3,-2,-1,0,1,2,3,4,5,6,7], "tickSize": 8, "tickWidth": 1.2, "domainWidth": 1.5, "labels": false, "title": null}},
  "y": {"field": "y", "type": "quantitative", "scale": {"domain": [0.011, 0.25], "nice": false, "zero": false}, "axis": {"orient": "right", "values": [0.04,0.08,0.12,0.16,0.2,0.24], "tickSize": 8, "tickWidth": 1.2, "domainWidth": 1.5, "labels": false, "title": null}},
  "fill": {"field": "lv", "type": "quantitative", "title": "(x10⁸)", "scale": {"type": "threshold", "domain": [1,2,3,4,5], "range": ["#ffffff","#dcdcdc","#bbbbbb","#969696","#464646","#1e1e1e"]}, "legend": null},
  "detail": {"field": "id"},
  "order": {"field": "i", "type": "quantitative"}}},
{"data": {"name": "poly"}, "transform": [{"filter": "datum.p=='b' && datum.z==3"}],
 "mark": {"type": "line", "interpolate": "linear-closed", "stroke": "black", "strokeWidth": 0.9},
 "encoding": {
  "x": {"field": "x", "type": "quantitative", "scale": {"domain": [-7, 7], "nice": false, "zero": false}, "axis": null},
  "y": {"field": "y", "type": "quantitative", "scale": {"domain": [0.011, 0.25], "nice": false, "zero": false}, "axis": {"orient": "left", "values": [0.02,0.03,0.05,0.06,0.07,0.09,0.1,0.11,0.13,0.14,0.15,0.17,0.18,0.19,0.21,0.22,0.23,0.25], "tickSize": 4, "tickWidth": 1, "labels": false, "domain": false, "title": null}},
  "fill": {"field": "lv", "type": "quantitative", "title": "(x10⁸)", "scale": {"type": "threshold", "domain": [1,2,3,4,5], "range": ["#ffffff","#dcdcdc","#bbbbbb","#969696","#464646","#1e1e1e"]}, "legend": null},
  "detail": {"field": "id"},
  "order": {"field": "i", "type": "quantitative"}}},
{"data": {"name": "poly"}, "transform": [{"filter": "datum.p=='b' && datum.z==4"}],
 "mark": {"type": "line", "interpolate": "linear-closed", "stroke": "black", "strokeWidth": 0.9},
 "encoding": {
  "x": {"field": "x", "type": "quantitative", "scale": {"domain": [-7, 7], "nice": false, "zero": false}, "axis": null},
  "y": {"field": "y", "type": "quantitative", "scale": {"domain": [0.011, 0.25], "nice": false, "zero": false}, "axis": {"orient": "right", "values": [0.02,0.03,0.05,0.06,0.07,0.09,0.1,0.11,0.13,0.14,0.15,0.17,0.18,0.19,0.21,0.22,0.23,0.25], "tickSize": 4, "tickWidth": 1, "labels": false, "domain": false, "title": null}},
  "fill": {"field": "lv", "type": "quantitative", "title": "(x10⁸)", "scale": {"type": "threshold", "domain": [1,2,3,4,5], "range": ["#ffffff","#dcdcdc","#bbbbbb","#969696","#464646","#1e1e1e"]}, "legend": null},
  "detail": {"field": "id"},
  "order": {"field": "i", "type": "quantitative"}}},
{"data": {"name": "lab"}, "transform": [{"filter": "datum.p=='b'"}],
 "mark": {"type": "square", "filled": true, "color": "white", "opacity": 1, "size": 100},
 "encoding": {
  "x": {"field": "x", "type": "quantitative", "scale": {"domain": [-7, 7], "nice": false, "zero": false}, "axis": null},
  "y": {"field": "y", "type": "quantitative", "scale": {"domain": [0.011, 0.25], "nice": false, "zero": false}, "axis": null}}},
{"data": {"name": "lab"}, "transform": [{"filter": "datum.p=='b'"}],
 "mark": {"type": "text", "fontSize": 11, "angle": 80, "font": "Liberation Sans", "color": "black"},
 "encoding": {
  "x": {"field": "x", "type": "quantitative", "scale": {"domain": [-7, 7], "nice": false, "zero": false}, "axis": null},
  "y": {"field": "y", "type": "quantitative", "scale": {"domain": [0.011, 0.25], "nice": false, "zero": false}, "axis": null},
  "text": {"field": "t"}}},
{"data": {"values": [{"v": 0, "f0": 0.011, "f1": 0.25}]},
 "mark": {"type": "rule", "strokeWidth": 1.8, "color": "black"},
 "encoding": {
  "x": {"field": "v", "type": "quantitative", "scale": {"domain": [-7, 7], "nice": false, "zero": false}, "axis": null},
  "y": {"field": "f0", "type": "quantitative", "scale": {"domain": [0.011, 0.25], "nice": false, "zero": false}, "axis": null},
  "y2": {"field": "f1"}}}
],
"resolve": {"axis": {"x": "independent", "y": "independent"}}
}
],
"spacing": 9
}
